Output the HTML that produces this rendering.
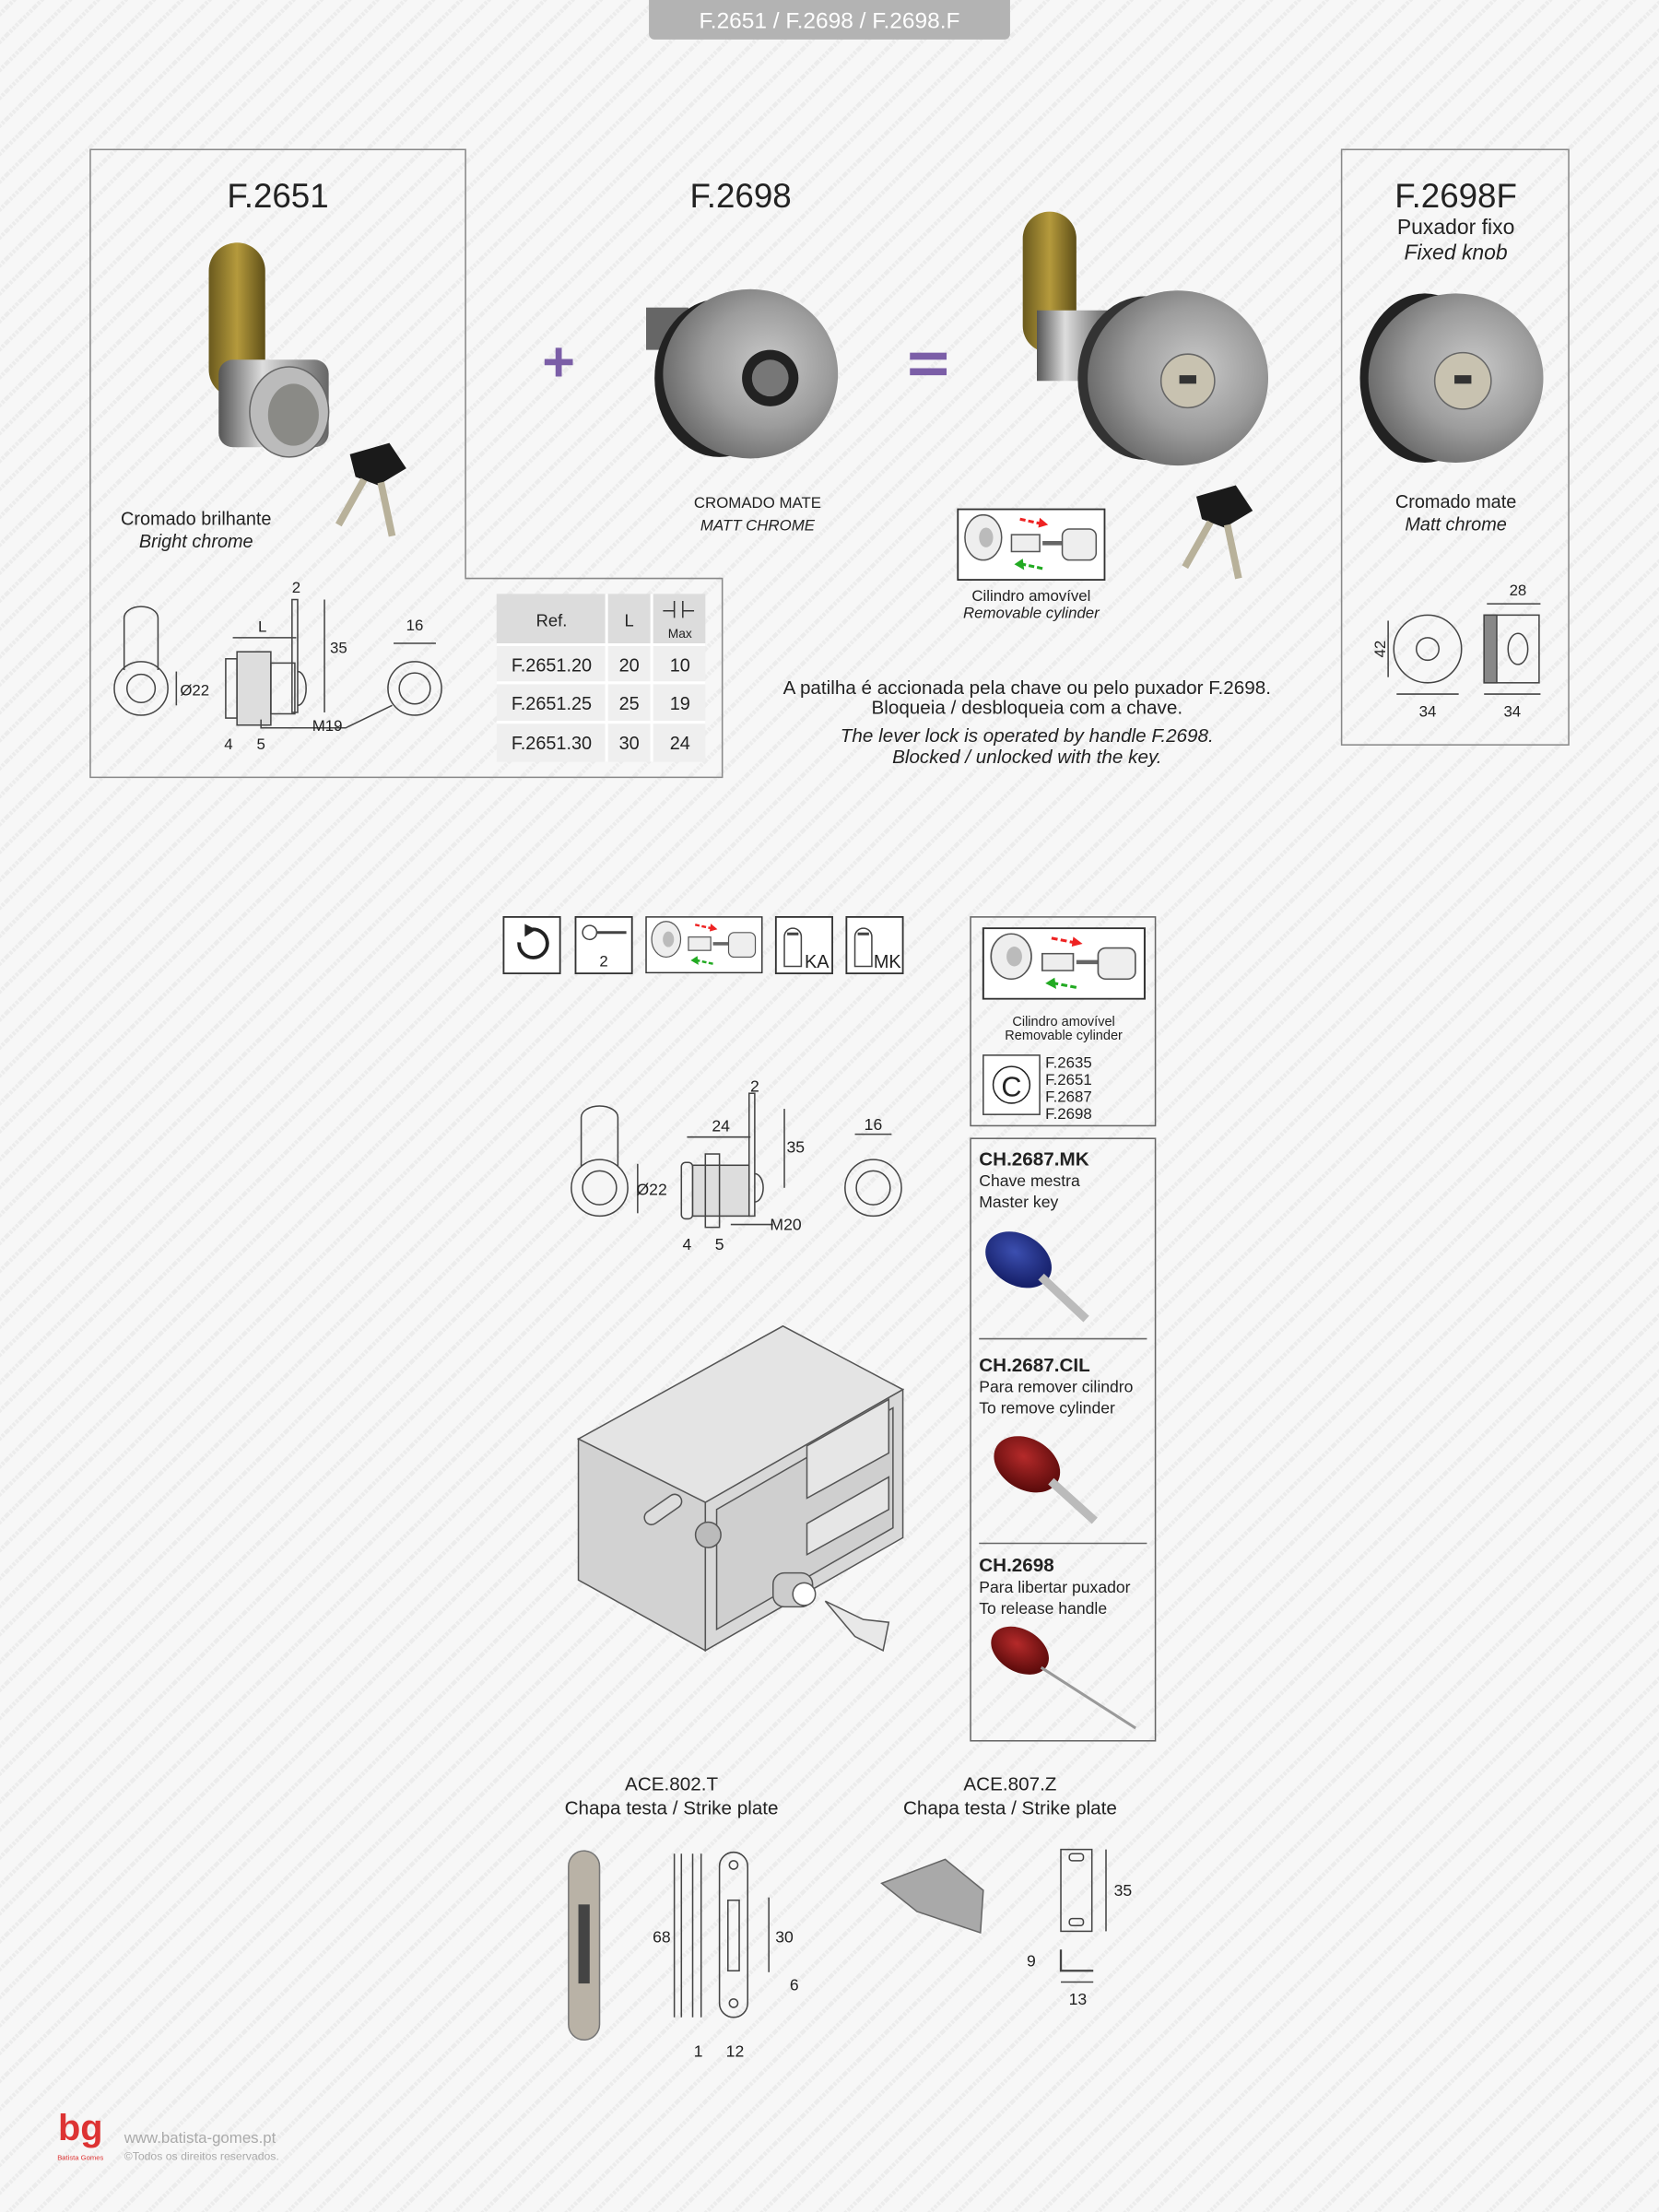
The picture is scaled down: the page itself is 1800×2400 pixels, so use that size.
<!DOCTYPE html>
<html><head><meta charset="utf-8"><style>
html,body{margin:0;padding:0;background:#f6f6f6}
svg{display:block}
text{font-family:"Liberation Sans",sans-serif;fill:#222}
</style></head><body>
<svg width="1800" height="2400" viewBox="0 0 1176 1568" xmlns="http://www.w3.org/2000/svg">
<defs>
<pattern id="wm" width="14" height="14" patternUnits="userSpaceOnUse" patternTransform="rotate(-45)">
<rect width="14" height="14" fill="#f7f7f7"/><line x1="0" y1="7" x2="14" y2="7" stroke="#ececec" stroke-width="3" stroke-dasharray="2 1"/>
</pattern>
<radialGradient id="knob" cx="0.6" cy="0.45" r="0.6"><stop offset="0" stop-color="#c9c9c9"/><stop offset="0.6" stop-color="#9c9c9c"/><stop offset="1" stop-color="#6d6d6d"/></radialGradient>
<linearGradient id="brass" x1="0" x2="1"><stop offset="0" stop-color="#6a5a1e"/><stop offset="0.5" stop-color="#b59a3c"/><stop offset="1" stop-color="#5e4f18"/></linearGradient>
<linearGradient id="chrome" x1="0" x2="1"><stop offset="0" stop-color="#555"/><stop offset="0.4" stop-color="#ddd"/><stop offset="1" stop-color="#666"/></linearGradient>
<radialGradient id="blue" cx="0.4" cy="0.4" r="0.6"><stop offset="0" stop-color="#3c4fb0"/><stop offset="1" stop-color="#16206a"/></radialGradient>
<radialGradient id="red" cx="0.4" cy="0.4" r="0.6"><stop offset="0" stop-color="#b52a2a"/><stop offset="1" stop-color="#5e0c0c"/></radialGradient>
<g id="keyblk"><polygon points="0,0 28,-8 40,10 20,22 4,16" fill="#1a1a1a"/><line x1="10" y1="18" x2="-8" y2="50" stroke="#b8b19a" stroke-width="5"/><line x1="22" y1="20" x2="30" y2="58" stroke="#b8b19a" stroke-width="5"/></g>
<g id="cylicon"><rect x="0" y="0" width="104" height="50" fill="#fff" stroke="#333" stroke-width="1.2"/><ellipse cx="18" cy="20" rx="13" ry="16" fill="#eee" stroke="#555"/><ellipse cx="20" cy="20" rx="5" ry="7" fill="#bbb"/><rect x="38" y="18" width="20" height="12" fill="#eee" stroke="#555"/><line x1="60" y1="24" x2="74" y2="24" stroke="#666" stroke-width="3"/><rect x="74" y="14" width="24" height="22" rx="5" fill="#eee" stroke="#555"/><line x1="44" y1="7" x2="58" y2="10" stroke="#e22" stroke-width="2" stroke-dasharray="4 2"/><polygon points="58,6 64,11 57,13" fill="#e22"/><line x1="60" y1="42" x2="46" y2="39" stroke="#2a2" stroke-width="2" stroke-dasharray="4 2"/><polygon points="46,35 40,39 47,43" fill="#2a2"/></g>
</defs>
<rect width="1176" height="1568" fill="url(#wm)"/>
<!-- title tab -->
<rect x="460" y="-5" width="256" height="33" rx="4" fill="#b3b3b3"/>
<text x="588" y="20" font-size="16" text-anchor="middle" fill="#fff" style="fill:#fff">F.2651 / F.2698 / F.2698.F</text>

<!-- F.2651 box -->
<polygon points="64,106 330,106 330,410 512,410 512,551 64,551" fill="none" stroke="#888" stroke-width="1"/>
<text x="197" y="147" font-size="24" text-anchor="middle">F.2651</text>
<rect x="148" y="172" width="40" height="110" rx="20" fill="url(#brass)"/>
<rect x="155" y="255" width="78" height="62" rx="10" fill="url(#chrome)"/>
<ellipse cx="205" cy="292" rx="28" ry="32" fill="#bbb" stroke="#666"/>
<ellipse cx="208" cy="294" rx="18" ry="22" fill="#8a8a86"/>
<use href="#keyblk" x="248" y="322"/>
<text x="139" y="372" font-size="13" text-anchor="middle">Cromado brilhante</text>
<text x="139" y="388" font-size="13" text-anchor="middle" font-style="italic">Bright chrome</text>
<g fill="none" stroke="#444" stroke-width="1">
<path d="M88,475 V438 a12,8 0 0 1 24,0 V475"/><circle cx="100" cy="488" r="19"/><circle cx="100" cy="488" r="10"/>
<rect x="160" y="467" width="8" height="42"/><rect x="168" y="462" width="24" height="52" fill="#ddd"/><rect x="192" y="470" width="17" height="36"/><rect x="207" y="425" width="4" height="80"/><path d="M211,476 a6,12 0 0 1 0,24"/>
<circle cx="294" cy="488" r="19"/><circle cx="294" cy="488" r="11"/>
<line x1="165" y1="452" x2="210" y2="452"/><line x1="230" y1="425" x2="230" y2="505"/><line x1="125" y1="476" x2="125" y2="500"/>
<polyline points="185,510 185,516 245,516 278,500"/>
<line x1="279" y1="456" x2="309" y2="456"/>
</g>
<g font-size="11" text-anchor="middle">
<text x="210" y="420">2</text><text x="186" y="448">L</text><text x="240" y="463">35</text><text x="138" y="493">Ø22</text><text x="232" y="518">M19</text><text x="162" y="531">4</text><text x="185" y="531">5</text><text x="294" y="447">16</text>
</g>
<!-- table -->
<g>
<rect x="352" y="421" width="148" height="119" fill="#efefef"/>
<rect x="352" y="421" width="148" height="36" fill="#dcdcdc"/>
<g stroke="#fff" stroke-width="2"><line x1="430" y1="421" x2="430" y2="540"/><line x1="462" y1="421" x2="462" y2="540"/><line x1="352" y1="457" x2="500" y2="457"/><line x1="352" y1="484" x2="500" y2="484"/><line x1="352" y1="512" x2="500" y2="512"/></g>
<g font-size="13" text-anchor="middle">
<text x="391" y="444" font-size="12">Ref.</text><text x="446" y="444" font-size="12">L</text><text x="482" y="452" font-size="9">Max</text>
<path d="M470,433 h8 m6,0 h8 M478,426 v12 M484,426 v12" stroke="#333" fill="none"/>
<text x="391" y="476">F.2651.20</text><text x="446" y="476" fill="#666">20</text><text x="482" y="476" fill="#666">10</text>
<text x="391" y="503">F.2651.25</text><text x="446" y="503">25</text><text x="482" y="503">19</text>
<text x="391" y="531">F.2651.30</text><text x="446" y="531">30</text><text x="482" y="531">24</text>
</g></g>

<!-- F.2698 -->
<text x="525" y="147" font-size="24" text-anchor="middle">F.2698</text>
<text x="396" y="270" font-size="40" text-anchor="middle" font-weight="bold" style="fill:#7b5ea7">+</text>
<rect x="645" y="250" width="26" height="5" fill="#7b5ea7"/><rect x="645" y="261" width="26" height="5" fill="#7b5ea7"/>
<rect x="458" y="218" width="30" height="30" fill="#666"/>
<ellipse cx="510" cy="268" rx="46" ry="56" fill="#222"/>
<ellipse cx="532" cy="265" rx="62" ry="60" fill="url(#knob)"/>
<circle cx="546" cy="268" r="20" fill="#222"/><circle cx="546" cy="268" r="13" fill="#777"/>
<text x="537" y="360" font-size="11" text-anchor="middle">CROMADO MATE</text>
<text x="537" y="376" font-size="11" text-anchor="middle" font-style="italic">MATT CHROME</text>

<rect x="725" y="150" width="38" height="100" rx="19" fill="url(#brass)"/>
<rect x="735" y="220" width="50" height="50" fill="url(#chrome)"/>
<ellipse cx="812" cy="268" rx="48" ry="58" fill="#333"/>
<ellipse cx="835" cy="268" rx="64" ry="62" fill="url(#knob)"/>
<circle cx="842" cy="270" r="19" fill="#c8c2b0" stroke="#666"/><rect x="836" y="266" width="12" height="6" fill="#333"/>
<use href="#keyblk" x="848" y="352"/>
<use href="#cylicon" x="679" y="361"/>
<text x="731" y="426" font-size="11" text-anchor="middle">Cilindro amovível</text>
<text x="731" y="438" font-size="11" text-anchor="middle" font-style="italic">Removable cylinder</text>

<g font-size="13.5" text-anchor="middle">
<text x="728" y="492">A patilha é accionada pela chave ou pelo puxador F.2698.</text>
<text x="728" y="506">Bloqueia / desbloqueia com a chave.</text>
<text x="728" y="526" font-style="italic">The lever lock is operated by handle F.2698.</text>
<text x="728" y="541" font-style="italic">Blocked / unlocked with the key.</text>
</g>

<!-- F.2698F box -->
<rect x="951" y="106" width="161" height="422" fill="none" stroke="#888"/>
<text x="1032" y="147" font-size="24" text-anchor="middle">F.2698F</text>
<text x="1032" y="166" font-size="15" text-anchor="middle">Puxador fixo</text>
<text x="1032" y="184" font-size="15" text-anchor="middle" font-style="italic">Fixed knob</text>
<ellipse cx="1010" cy="268" rx="46" ry="60" fill="#222"/>
<ellipse cx="1032" cy="268" rx="62" ry="60" fill="url(#knob)"/>
<circle cx="1037" cy="270" r="20" fill="#c8c2b0" stroke="#666"/><rect x="1031" y="266" width="12" height="6" fill="#333"/>
<text x="1032" y="360" font-size="13" text-anchor="middle">Cromado mate</text>
<text x="1032" y="376" font-size="13" text-anchor="middle" font-style="italic">Matt chrome</text>
<g fill="none" stroke="#444"><circle cx="1012" cy="460" r="24"/><circle cx="1012" cy="460" r="8"/><line x1="984" y1="440" x2="984" y2="480"/><line x1="990" y1="492" x2="1034" y2="492"/>
<rect x="1052" y="436" width="39" height="48"/><rect x="1052" y="436" width="9" height="48" fill="#888"/><ellipse cx="1076" cy="460" rx="7" ry="11"/><line x1="1054" y1="428" x2="1092" y2="428"/><line x1="1052" y1="492" x2="1092" y2="492"/></g>
<g font-size="11" text-anchor="middle"><text x="1076" y="422">28</text><text x="1012" y="508">34</text><text x="1072" y="508">34</text><text x="978" y="464" transform="rotate(-90 978 460)">42</text></g>

<!-- icons row -->
<g fill="#fff" stroke="#333" stroke-width="1.2">
<rect x="357" y="650" width="40" height="40"/><rect x="408" y="650" width="40" height="40"/><rect x="550" y="650" width="40" height="40"/><rect x="600" y="650" width="40" height="40"/>
</g>
<path d="M368,668 a10,10 0 1 0 8,-9" fill="none" stroke="#222" stroke-width="2.5"/><polygon points="372,655 380,659 372,664" fill="#222"/>
<circle cx="418" cy="661" r="5" fill="none" stroke="#444"/><line x1="423" y1="661" x2="444" y2="661" stroke="#444" stroke-width="2"/>
<text x="428" y="685" font-size="11" text-anchor="middle">2</text>
<use href="#cylicon" x="458" y="650" transform="translate(458 650) scale(0.79) translate(-458 -650)"/>
<path d="M556,685 V664 a6,6 0 0 1 12,0 V685 Z" fill="none" stroke="#444"/><line x1="558" y1="662" x2="566" y2="662" stroke="#444" stroke-width="2"/>
<text x="579" y="686" font-size="13" text-anchor="middle">KA</text>
<path d="M606,685 V664 a6,6 0 0 1 12,0 V685 Z" fill="none" stroke="#444"/><line x1="608" y1="662" x2="616" y2="662" stroke="#444" stroke-width="2"/>
<text x="629" y="686" font-size="13" text-anchor="middle">MK</text>

<!-- middle dims -->
<g fill="none" stroke="#444">
<path d="M412,830 V792 a13,8 0 0 1 26,0 V830"/><circle cx="425" cy="842" r="20" fill="#f6f6f6"/><circle cx="425" cy="842" r="12"/>
<line x1="452" y1="825" x2="452" y2="860"/>
<rect x="483" y="824" width="8" height="40" rx="3"/><rect x="491" y="826" width="40" height="36" fill="#ddd"/><rect x="500" y="818" width="10" height="52"/><rect x="531" y="775" width="4" height="87"/><path d="M535,832 a6,10 0 0 1 0,20"/>
<line x1="487" y1="806" x2="532" y2="806"/><line x1="556" y1="786" x2="556" y2="842"/>
<circle cx="619" cy="842" r="20"/><circle cx="619" cy="842" r="12"/><line x1="606" y1="804" x2="632" y2="804"/>
<polyline points="518,868 548,868 M572,868 598,868 614,858"/>
</g>
<g font-size="11.5" text-anchor="middle"><text x="535" y="774">2</text><text x="511" y="802">24</text><text x="564" y="817">35</text><text x="619" y="801">16</text><text x="462" y="847">Ø22</text><text x="557" y="872">M20</text><text x="487" y="886">4</text><text x="510" y="886">5</text></g>

<!-- 3D box -->
<g stroke="#555" stroke-width="1">
<polygon points="410,1020 555,940 640,985 500,1065" fill="#e4e4e4"/>
<polygon points="410,1020 500,1065 500,1170 410,1120" fill="#d2d2d2"/>
<polygon points="500,1065 640,985 640,1090 500,1170" fill="#d8d8d8"/>
<polygon points="508,1070 633,998 633,1083 508,1155" fill="#cfcfcf"/>
<polygon points="572,1025 630,992 630,1030 572,1062" fill="#e6e6e6"/>
<polygon points="572,1080 630,1047 630,1070 572,1102" fill="#e6e6e6"/>
<rect x="455" y="1065" width="30" height="10" rx="5" transform="rotate(-35 470 1070)" fill="#ddd"/>
<circle cx="502" cy="1088" r="9" fill="#bbb"/>
<rect x="548" y="1115" width="28" height="24" rx="8" fill="#ccc"/><circle cx="570" cy="1130" r="8" fill="#fff"/>
<polygon points="585,1135 612,1148 630,1150 626,1170 606,1160" fill="#e8e8e8"/>
</g>

<!-- right panel -->
<rect x="688" y="650" width="131" height="148" fill="none" stroke="#666"/>
<use href="#cylicon" transform="translate(697 658) scale(1.1 1)"/>
<text x="754" y="727" font-size="9.5" text-anchor="middle">Cilindro amovível</text>
<text x="754" y="737" font-size="9.5" text-anchor="middle">Removable cylinder</text>
<rect x="697" y="748" width="40" height="42" fill="#fff" stroke="#444"/><circle cx="717" cy="769" r="13" fill="none" stroke="#222"/><text x="717" y="777" font-size="20" text-anchor="middle">C</text>
<g font-size="11" fill="#555"><text x="741" y="757">F.2635</text><text x="741" y="769">F.2651</text><text x="741" y="781">F.2687</text><text x="741" y="793">F.2698</text></g>
<rect x="688" y="807" width="131" height="427" fill="none" stroke="#666"/>
<g font-size="11.5"><text x="694" y="826" font-size="13.5" font-weight="bold">CH.2687.MK</text><text x="694" y="841">Chave mestra</text><text x="694" y="856">Master key</text>
<text x="694" y="972" font-size="13.5" font-weight="bold">CH.2687.CIL</text><text x="694" y="987">Para remover cilindro</text><text x="694" y="1002">To remove cylinder</text>
<text x="694" y="1114" font-size="13.5" font-weight="bold">CH.2698</text><text x="694" y="1129">Para libertar puxador</text><text x="694" y="1144">To release handle</text></g>
<line x1="694" y1="949" x2="813" y2="949" stroke="#666"/><line x1="694" y1="1094" x2="813" y2="1094" stroke="#666"/>
<ellipse cx="722" cy="893" rx="25" ry="18" transform="rotate(30 722 893)" fill="url(#blue)"/><line x1="738" y1="905" x2="770" y2="935" stroke="#bbb" stroke-width="6"/>
<ellipse cx="728" cy="1038" rx="25" ry="18" transform="rotate(30 728 1038)" fill="url(#red)"/><line x1="745" y1="1050" x2="776" y2="1078" stroke="#bbb" stroke-width="6"/>
<ellipse cx="723" cy="1170" rx="22" ry="15" transform="rotate(30 723 1170)" fill="url(#red)"/><line x1="738" y1="1182" x2="805" y2="1225" stroke="#999" stroke-width="2"/>

<!-- strike plates -->
<g font-size="13.5" text-anchor="middle"><text x="476" y="1269">ACE.802.T</text><text x="476" y="1286">Chapa testa / Strike plate</text><text x="716" y="1269">ACE.807.Z</text><text x="716" y="1286">Chapa testa / Strike plate</text></g>
<rect x="403" y="1312" width="22" height="134" rx="11" fill="#b9b2a6" stroke="#777"/><rect x="410" y="1350" width="8" height="56" fill="#444"/>
<g fill="none" stroke="#444">
<line x1="483" y1="1314" x2="483" y2="1430"/><line x1="491" y1="1314" x2="491" y2="1430"/><line x1="497" y1="1314" x2="497" y2="1430"/>
<rect x="510" y="1313" width="20" height="117" rx="10"/><rect x="516" y="1347" width="8" height="50"/><circle cx="520" cy="1322" r="3"/><circle cx="520" cy="1420" r="3"/>
<line x1="545" y1="1345" x2="545" y2="1398"/><line x1="478" y1="1314" x2="478" y2="1430"/>
<rect x="752" y="1311" width="22" height="58"/><rect x="758" y="1314" width="10" height="5" rx="2"/><rect x="758" y="1360" width="10" height="5" rx="2"/><line x1="784" y1="1311" x2="784" y2="1369"/>
<polyline points="752,1382 752,1397 775,1397" stroke-width="1.5"/><line x1="752" y1="1405" x2="775" y2="1405"/>
</g>
<g font-size="11.5" text-anchor="middle"><text x="469" y="1377">68</text><text x="556" y="1377">30</text><text x="563" y="1411">6</text><text x="495" y="1458">1</text><text x="521" y="1458">12</text><text x="796" y="1344">35</text><text x="731" y="1394">9</text><text x="764" y="1421">13</text></g>
<polygon points="625,1335 670,1318 697,1340 695,1370 650,1355" fill="#a9a9a9" stroke="#666"/>

<!-- footer -->
<text x="57" y="1517" font-size="26" text-anchor="middle" style="fill:#d33" font-weight="bold">bg</text>
<text x="57" y="1531" font-size="5" text-anchor="middle" style="fill:#d33">Batista Gomes</text>
<text x="88" y="1519" font-size="11" style="fill:#aaa">www.batista-gomes.pt</text>
<text x="88" y="1531" font-size="8" style="fill:#aaa">©Todos os direitos reservados.</text>
</svg>
</body></html>
